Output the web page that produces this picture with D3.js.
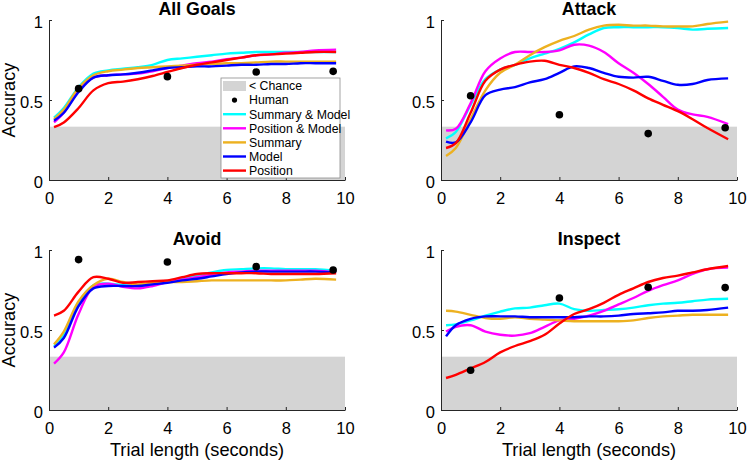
<!DOCTYPE html>
<html lang="en">
  <head>
    <meta charset="UTF-8" />
    <title>Accuracy by trial length</title>
    <script src="https://cdn.jsdelivr.net/npm/d3@7"></script>
    <style>
      body { margin: 0; background: #fff; }
      svg { display: block; }
      text { font-family: "Liberation Sans", Arial, sans-serif; fill: #000; }
    </style>
  </head>
  <body>
    <svg width="747" height="461"></svg>
    <script>
      // sample times (seconds) for the model curves
      const times = [0.17, 0.5, 1, 1.5, 2, 2.5, 3, 3.5, 4, 4.5, 5, 5.5, 6, 6.5, 7, 7.5, 8, 8.5, 9, 9.7];
      const humanTimes = [1, 4, 7, 9.6];
      const chance = 1 / 3;
      const xTicks = [0, 2, 4, 6, 8, 10];
      const yTicks = [0, 0.5, 1];
      const yTickLabels = ["0", "0.5", "1"];

      const seriesNames = ["Summary & Model", "Position & Model", "Summary", "Model", "Position"];
      const seriesColors = ["#00ffff", "#ff00ff", "#edb120", "#0000ff", "#ff0000"];

      // All Goals
      const allHuman = [0.571, 0.646, 0.675, 0.679];
      const allSumModel = [0.39, 0.45, 0.58, 0.665, 0.685, 0.695, 0.705, 0.72, 0.75, 0.76, 0.77, 0.78, 0.79, 0.795, 0.80, 0.80, 0.80, 0.80, 0.80, 0.80];
      const allPosModel = [0.36, 0.42, 0.56, 0.64, 0.655, 0.66, 0.665, 0.68, 0.70, 0.715, 0.73, 0.74, 0.755, 0.765, 0.78, 0.785, 0.795, 0.80, 0.81, 0.815];
      const allSummary = [0.38, 0.44, 0.575, 0.655, 0.68, 0.69, 0.70, 0.705, 0.71, 0.715, 0.72, 0.725, 0.73, 0.73, 0.735, 0.74, 0.74, 0.74, 0.74, 0.74];
      const allModel = [0.37, 0.42, 0.55, 0.64, 0.655, 0.66, 0.67, 0.685, 0.70, 0.705, 0.71, 0.71, 0.715, 0.72, 0.72, 0.725, 0.725, 0.73, 0.73, 0.73];
      const allPosition = [0.33, 0.36, 0.45, 0.56, 0.605, 0.615, 0.63, 0.65, 0.675, 0.70, 0.72, 0.735, 0.75, 0.765, 0.78, 0.785, 0.79, 0.795, 0.80, 0.80];

      // Attack
      const atkHuman = [0.527, 0.408, 0.29, 0.327];
      const atkSumModel = [0.26, 0.30, 0.47, 0.63, 0.69, 0.72, 0.76, 0.79, 0.82, 0.86, 0.91, 0.95, 0.955, 0.955, 0.955, 0.955, 0.95, 0.94, 0.945, 0.95];
      const atkPosModel = [0.31, 0.32, 0.48, 0.68, 0.76, 0.80, 0.80, 0.80, 0.81, 0.845, 0.84, 0.80, 0.73, 0.67, 0.60, 0.52, 0.44, 0.41, 0.395, 0.35];
      const atkSummary = [0.15, 0.20, 0.38, 0.56, 0.67, 0.72, 0.78, 0.83, 0.87, 0.90, 0.94, 0.965, 0.97, 0.965, 0.965, 0.96, 0.96, 0.96, 0.975, 0.99];
      const atkModel = [0.24, 0.235, 0.36, 0.53, 0.565, 0.58, 0.61, 0.63, 0.67, 0.71, 0.70, 0.67, 0.645, 0.64, 0.645, 0.62, 0.595, 0.60, 0.625, 0.635];
      const atkPosition = [0.20, 0.23, 0.42, 0.62, 0.69, 0.72, 0.74, 0.745, 0.72, 0.70, 0.67, 0.63, 0.60, 0.56, 0.51, 0.47, 0.43, 0.38, 0.325, 0.255];

      // Avoid
      const avdHuman = [0.94, 0.925, 0.896, 0.875];
      const avdSumModel = [0.40, 0.47, 0.67, 0.78, 0.79, 0.78, 0.775, 0.785, 0.80, 0.82, 0.84, 0.86, 0.875, 0.88, 0.885, 0.885, 0.88, 0.88, 0.88, 0.87];
      const avdPosModel = [0.29, 0.36, 0.60, 0.77, 0.79, 0.77, 0.76, 0.775, 0.80, 0.815, 0.83, 0.845, 0.86, 0.865, 0.87, 0.87, 0.87, 0.87, 0.87, 0.86];
      const avdSummary = [0.41, 0.49, 0.68, 0.78, 0.82, 0.80, 0.785, 0.795, 0.80, 0.80, 0.805, 0.81, 0.81, 0.81, 0.81, 0.81, 0.81, 0.815, 0.82, 0.815];
      const avdModel = [0.39, 0.45, 0.65, 0.76, 0.775, 0.775, 0.775, 0.785, 0.795, 0.81, 0.82, 0.835, 0.85, 0.86, 0.865, 0.865, 0.865, 0.865, 0.865, 0.86];
      const avdPosition = [0.59, 0.62, 0.74, 0.83, 0.82, 0.795, 0.80, 0.805, 0.81, 0.83, 0.85, 0.855, 0.855, 0.855, 0.855, 0.85, 0.85, 0.85, 0.85, 0.855];

      // Inspect
      const insHuman = [0.248, 0.70, 0.767, 0.765];
      const insSumModel = [0.53, 0.535, 0.56, 0.59, 0.615, 0.635, 0.64, 0.655, 0.665, 0.63, 0.62, 0.625, 0.63, 0.64, 0.655, 0.665, 0.67, 0.68, 0.69, 0.695];
      const insPosModel = [0.49, 0.52, 0.53, 0.49, 0.47, 0.465, 0.48, 0.52, 0.56, 0.57, 0.59, 0.62, 0.66, 0.70, 0.745, 0.78, 0.81, 0.85, 0.88, 0.89];
      const insSummary = [0.62, 0.615, 0.595, 0.575, 0.57, 0.58, 0.57, 0.565, 0.56, 0.555, 0.555, 0.555, 0.555, 0.56, 0.575, 0.585, 0.59, 0.595, 0.595, 0.595];
      const insModel = [0.46, 0.53, 0.57, 0.585, 0.585, 0.585, 0.58, 0.58, 0.58, 0.58, 0.585, 0.585, 0.59, 0.60, 0.605, 0.61, 0.62, 0.62, 0.625, 0.64];
      const insPosition = [0.20, 0.22, 0.26, 0.30, 0.36, 0.40, 0.43, 0.47, 0.54, 0.60, 0.63, 0.67, 0.72, 0.76, 0.80, 0.825, 0.84, 0.86, 0.88, 0.90];

      const panels = [
        { title: "All Goals", human: allHuman, series: [allSumModel, allPosModel, allSummary, allModel, allPosition], x0: 49, x1: 345, y0: 180, y1: 20, ylab: true, xlab: false, legend: true },
        { title: "Attack", human: atkHuman, series: [atkSumModel, atkPosModel, atkSummary, atkModel, atkPosition], x0: 441, x1: 737, y0: 180, y1: 20, ylab: false, xlab: false },
        { title: "Avoid", human: avdHuman, series: [avdSumModel, avdPosModel, avdSummary, avdModel, avdPosition], x0: 49, x1: 345, y0: 410, y1: 250, ylab: true, xlab: true },
        { title: "Inspect", human: insHuman, series: [insSumModel, insPosModel, insSummary, insModel, insPosition], x0: 441, x1: 737, y0: 410, y1: 250, ylab: false, xlab: true }
      ];

      const svg = d3.select("svg");
      const axisColor = "#262626";

      panels.forEach(p => {
        const x = d3.scaleLinear().domain([0, 10]).range([p.x0, p.x1]);
        const y = d3.scaleLinear().domain([0, 1]).range([p.y0, p.y1]);
        const g = svg.append("g");

        // below-chance shading
        g.append("rect")
          .attr("x", x(0)).attr("y", y(chance))
          .attr("width", x(10) - x(0)).attr("height", y(0) - y(chance))
          .attr("fill", "#d4d4d4");

        // axes (ticks pointing inward, like matlab)
        const xa = g.append("g").attr("transform", `translate(0,${y(0)})`)
          .call(d3.axisBottom(x).tickValues(xTicks).tickSizeInner(-3).tickSizeOuter(0).tickPadding(12));
        const ya = g.append("g").attr("transform", `translate(${x(0)},0)`)
          .call(d3.axisLeft(y).tickValues(yTicks).tickFormat((d, i) => yTickLabels[i]).tickSizeInner(-3).tickSizeOuter(0).tickPadding(6));
        [xa, ya].forEach(a => {
          a.select(".domain").attr("stroke", axisColor);
          a.selectAll(".tick line").attr("stroke", axisColor);
          a.selectAll(".tick text").attr("font-size", 16.5).attr("font-family", "Liberation Sans, Arial, sans-serif").attr("fill", "#000");
        });
        ya.selectAll(".tick text").attr("dy", "0.45em");

        // model curves
        const line = d3.line().x((d, i) => x(times[i])).y(d => y(d)).curve(d3.curveCatmullRom.alpha(0.5));
        p.series.forEach((s, k) => {
          g.append("path").datum(s)
            .attr("d", line)
            .attr("fill", "none")
            .attr("stroke", seriesColors[k])
            .attr("stroke-width", 2.4);
        });

        // human accuracy
        g.selectAll("circle.h").data(p.human).enter().append("circle")
          .attr("cx", (d, i) => x(humanTimes[i]))
          .attr("cy", d => y(d))
          .attr("r", 3.8)
          .attr("fill", "#000");

        g.append("text")
          .attr("x", (p.x0 + p.x1) / 2).attr("y", p.y1 - 5.5)
          .attr("text-anchor", "middle")
          .attr("font-size", 17.8).attr("font-weight", "bold")
          .text(p.title);

        if (p.ylab) {
          g.append("text")
            .attr("transform", `translate(${p.x0 - 34},${(p.y0 + p.y1) / 2}) rotate(-90)`)
            .attr("text-anchor", "middle")
            .attr("font-size", 18.2)
            .text("Accuracy");
        }
        if (p.xlab) {
          g.append("text")
            .attr("x", (p.x0 + p.x1) / 2).attr("y", p.y0 + 46)
            .attr("text-anchor", "middle")
            .attr("font-size", 18.2)
            .text("Trial length (seconds)");
        }

        if (p.legend) {
          const lg = g.append("g").attr("transform", "translate(221,78)");
          lg.append("rect").attr("width", 119).attr("height", 100)
            .attr("fill", "#fff").attr("stroke", "#8c8c8c").attr("stroke-width", 0.8);
          const rowY = i => 8 + i * 14.1;
          lg.append("rect").attr("x", 2).attr("y", rowY(0) - 5).attr("width", 23).attr("height", 10).attr("fill", "#d4d4d4");
          lg.append("circle").attr("cx", 13.5).attr("cy", rowY(1)).attr("r", 2.6).attr("fill", "#000");
          seriesNames.forEach((n, k) => {
            lg.append("line").attr("x1", 2).attr("x2", 25)
              .attr("y1", rowY(k + 2)).attr("y2", rowY(k + 2))
              .attr("stroke", seriesColors[k]).attr("stroke-width", 2.4);
          });
          ["< Chance", "Human"].concat(seriesNames).forEach((n, i) => {
            lg.append("text").attr("x", 28).attr("y", rowY(i)).attr("dy", "0.35em")
              .attr("font-size", 12.3).text(n);
          });
        }
      });
    </script>
  </body>
</html>
